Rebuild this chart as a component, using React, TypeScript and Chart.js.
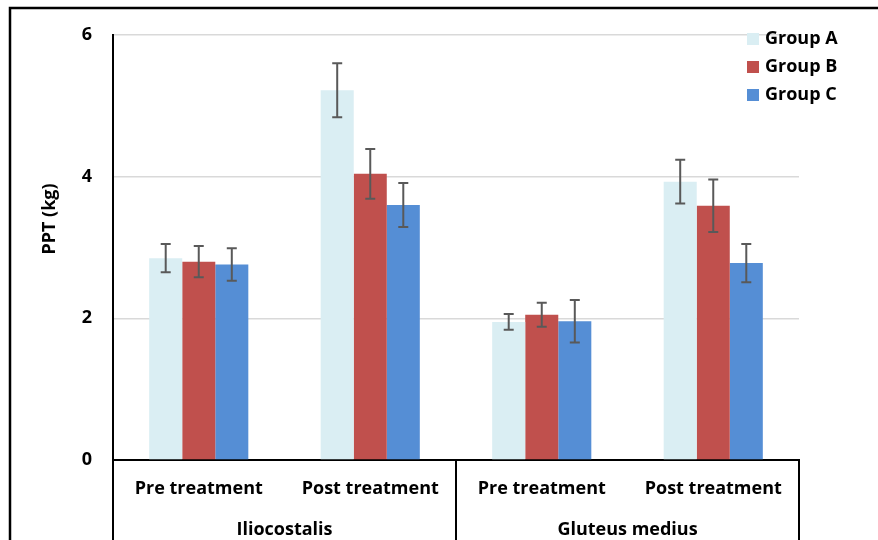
import React, { useEffect, useRef } from "react";
import { Chart, registerables } from "chart.js";

Chart.register(...registerables);

const muscles = ["Iliocostalis", "Gluteus medius"];
const categories = ["Pre treatment", "Post treatment", "Pre treatment", "Post treatment"];
const seriesNames = ["Group A", "Group B", "Group C"];
const groupA = [2.85, 5.22, 1.95, 3.93];
const groupAErr = [0.2, 0.38, 0.11, 0.31];
const groupB = [2.8, 4.04, 2.05, 3.59];
const groupBErr = [0.22, 0.35, 0.17, 0.37];
const groupC = [2.76, 3.6, 1.96, 2.78];
const groupCErr = [0.23, 0.31, 0.3, 0.27];
const yTitle = "PPT (kg)";
const yMin = 0;
const yMax = 6;
const yStep = 2;

const colors = ["#DAEEF3", "#C0504D", "#558ED5"];
const FONT = "'Open Sans', 'DejaVu Sans', sans-serif";

const errorBarPlugin = {
  id: "errorBars",
  afterDatasetsDraw(chart: any) {
    const ctx = chart.ctx;
    const yScale = chart.scales.y;
    ctx.save();
    ctx.strokeStyle = "#595959";
    ctx.lineWidth = 2;
    chart.data.datasets.forEach((ds: any, i: number) => {
      const meta = chart.getDatasetMeta(i);
      meta.data.forEach((el: any, j: number) => {
        const v = ds.data[j];
        const e = ds.errors[j];
        const yt = yScale.getPixelForValue(v + e);
        const yb = yScale.getPixelForValue(v - e);
        const x = el.x;
        ctx.beginPath();
        ctx.moveTo(x, yt);
        ctx.lineTo(x, yb);
        ctx.moveTo(x - 5, yt);
        ctx.lineTo(x + 5, yt);
        ctx.moveTo(x - 5, yb);
        ctx.lineTo(x + 5, yb);
        ctx.stroke();
      });
    });
    ctx.restore();
  },
};

const decorPlugin = {
  id: "decor",
  afterDraw(chart: any) {
    const ctx = chart.ctx;
    const xs = chart.scales.x;
    const area = chart.chartArea;
    const H = chart.height;
    ctx.save();
    // category separators
    ctx.strokeStyle = "#000";
    ctx.lineWidth = 2;
    const boundaries = [xs.left, (xs.getPixelForValue(1) + xs.getPixelForValue(2)) / 2, xs.right];
    ctx.beginPath();
    boundaries.forEach((bx) => {
      ctx.moveTo(bx, area.bottom);
      ctx.lineTo(bx, H);
    });
    ctx.stroke();
    // labels
    ctx.fillStyle = "#000";
    ctx.font = `bold 18px ${FONT}`;
    ctx.textAlign = "center";
    ctx.textBaseline = "middle";
    categories.forEach((c, i) => {
      ctx.fillText(c, xs.getPixelForValue(i), area.bottom + 29);
    });
    muscles.forEach((m, k) => {
      const cx = (boundaries[k] + boundaries[k + 1]) / 2;
      ctx.fillText(m, cx, area.bottom + 70);
    });
    // y title
    ctx.save();
    ctx.translate(50, 219);
    ctx.rotate(-Math.PI / 2);
    ctx.font = `bold 18px ${FONT}`;
    ctx.fillText(yTitle, 0, 0);
    ctx.restore();
    // legend
    ctx.textAlign = "left";
    chart.data.datasets.forEach((ds: any, i: number) => {
      const y = 39 + i * 28;
      ctx.fillStyle = ds.backgroundColor;
      ctx.fillRect(747, y - 6, 12, 12);
      ctx.fillStyle = "#000";
      ctx.font = `bold 18px ${FONT}`;
      ctx.fillText(ds.label, 765, y);
    });
    // outer frame
    ctx.strokeStyle = "#000";
    ctx.lineWidth = 2.5;
    ctx.beginPath();
    ctx.moveTo(10, H + 5);
    ctx.lineTo(10, 8);
    ctx.lineTo(chart.width + 5, 8);
    ctx.stroke();
    ctx.restore();
  },
};

export default function App() {
  const ref = useRef<HTMLCanvasElement>(null);
  useEffect(() => {
    if (!ref.current) return;
    const values = [groupA, groupB, groupC];
    const errs = [groupAErr, groupBErr, groupCErr];
    const chart = new Chart(ref.current, {
      type: "bar",
      data: {
        labels: categories,
        datasets: seriesNames.map((name, i) => ({
          label: name,
          data: values[i],
          errors: errs[i],
          backgroundColor: colors[i],
          borderWidth: 0,
          categoryPercentage: 0.578,
          barPercentage: 1,
        })) as any,
      },
      options: {
        animation: false,
        responsive: false,
        layout: { padding: { top: 35, right: 79, left: 0, bottom: 0 } },
        plugins: { legend: { display: false }, tooltip: { enabled: false } },
        scales: {
          x: {
            grid: { display: false, drawTicks: false },
            ticks: { display: false },
            border: { display: true, color: "#000", width: 2 },
            afterFit: (s: any) => {
              s.height = 80;
            },
          },
          y: {
            min: yMin,
            max: yMax,
            ticks: {
              stepSize: yStep,
              padding: 21,
              color: "#000",
              font: { family: FONT, size: 18, weight: "bold" },
            },
            grid: { color: "#D9D9D9", lineWidth: 1.5, drawTicks: false },
            border: { display: true, color: "#000", width: 2 },
            afterFit: (s: any) => {
              s.width = 113;
            },
          },
        },
      },
      plugins: [errorBarPlugin, decorPlugin],
    });
    return () => chart.destroy();
  }, []);
  return (
    <div style={{ position: "fixed", left: 0, top: 0, width: 878, height: 540, background: "#fff" }}>
      <canvas ref={ref} width={878} height={540} style={{ display: "block" }} />
    </div>
  );
}
